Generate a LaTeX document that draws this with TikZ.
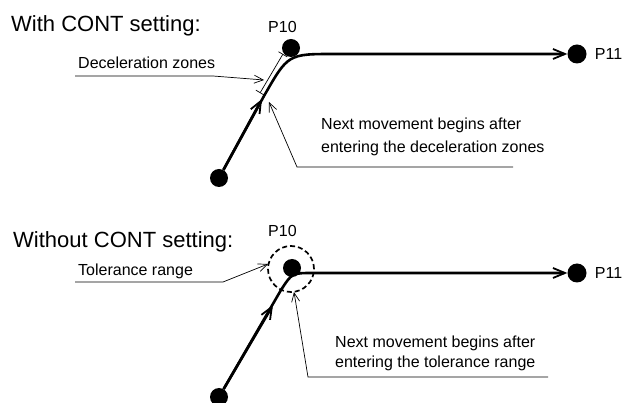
\documentclass[tikz,border=0pt]{standalone}
\usepackage{fontspec}
\setmainfont{Liberation Sans}
\usetikzlibrary{arrows.meta, positioning}

\begin{document}
\begin{tikzpicture}[
    x=1pt, y=-1pt,
    title/.style={anchor=base west, inner sep=0pt, font=\fontsize{22}{26}\selectfont},
    lbl/.style={anchor=base west, inner sep=0pt, font=\fontsize{16}{21}\selectfont, align=left},
    ptlbl/.style={inner sep=0pt, font=\fontsize{16}{21}\selectfont},
    dot/.style={circle, fill=black, inner sep=0pt, minimum size=18pt},
    move/.style={line width=2.6pt},
    movearr/.style={move, -{Straight Barb[length=12pt, width=10pt, line width=1.8pt]}},
    lead/.style={line width=0.7pt},
    leadarr/.style={lead, -{Straight Barb[length=9pt, width=8pt]}},
    zone/.style={lead, {Bar[width=10pt]}-{Bar[width=10pt]}},
    tol/.style={circle, draw, line width=1.7pt, dash pattern=on 5pt off 3pt, minimum size=46pt, inner sep=0pt}
]
    \useasboundingbox (0,0) rectangle (622,403);

    % With CONT setting
    \node[title] (t1) at (11,32) {With CONT setting:};
    \node[dot] (s1) at (219,178) {};
    \node[dot] (p10a) at (291,48) {};
    \node[dot, minimum size=19pt] (p11a) at (577,54) {};
    \node[lbl] (n10a) at (268,33) {P10};
    \node[ptlbl, right=8pt of p11a] (n11a) {P11};

    \coordinate (a1) at (262,99);
    \coordinate (c1) at (264,96);
    \coordinate (k1) at (288,54);
    \coordinate (e1) at (334,54);

    \draw[movearr] (s1) -- (a1);
    \draw[movearr] (s1) -- (c1) .. controls (k1) .. (e1) -- (p11a);

    % deceleration zones
    \coordinate (z1) at (260,93);
    \coordinate (z2) at (283,54);
    \draw[zone] (z1) -- (z2);

    \node[lbl] (dz) at (78,69) {Deceleration zones};
    \coordinate (dzA) at (75,76);
    \coordinate (dzB) at (213,76);
    \coordinate (dzT) at (264,80);
    \draw[leadarr] (dzA) -- (dzB) -- (dzT);

    \node[lbl, font=\fontsize{16}{23}\selectfont] (nm1) at (321,153) {Next movement begins after\\entering the deceleration zones};
    \coordinate (nmA) at (513,167);
    \coordinate (nmB) at (297,167);
    \coordinate (nmT) at (269,102);
    \draw[leadarr] (nmA) -- (nmB) -- (nmT);

    % Without CONT setting
    \node[title] (t2) at (13,248) {Without CONT setting:};
    \node[dot] (s2) at (219,397) {};
    \node[dot] (p10b) at (292,268) {};
    \node[tol] (tr) at (291,269) {};
    \node[dot, minimum size=19pt] (p11b) at (577,273) {};
    \node[lbl] (n10b) at (268,237) {P10};
    \node[ptlbl, right=8pt of p11b] (n11b) {P11};

    \coordinate (a2) at (273,305);
    \coordinate (c2) at (281,290);
    \coordinate (k2) at (292,273);
    \coordinate (e2) at (313,273);

    \draw[movearr] (s2) -- (a2);
    \draw[movearr] (s2) -- (c2) .. controls (k2) .. (e2) -- (p11b);

    % tolerance range
    \node[lbl] (trl) at (78,276) {Tolerance range};
    \coordinate (trA) at (75,282);
    \coordinate (trB) at (223,282);
    \coordinate (trT) at (268,264);
    \draw[leadarr] (trA) -- (trB) -- (trT);

    \node[lbl, font=\fontsize{16}{20}\selectfont] (nm2) at (335,368) {Next movement begins after\\entering the tolerance range};
    \coordinate (nmC) at (548,377);
    \coordinate (nmD) at (308,377);
    \coordinate (nmU) at (294,292);
    \draw[leadarr] (nmC) -- (nmD) -- (nmU);

\end{tikzpicture}
\end{document}
